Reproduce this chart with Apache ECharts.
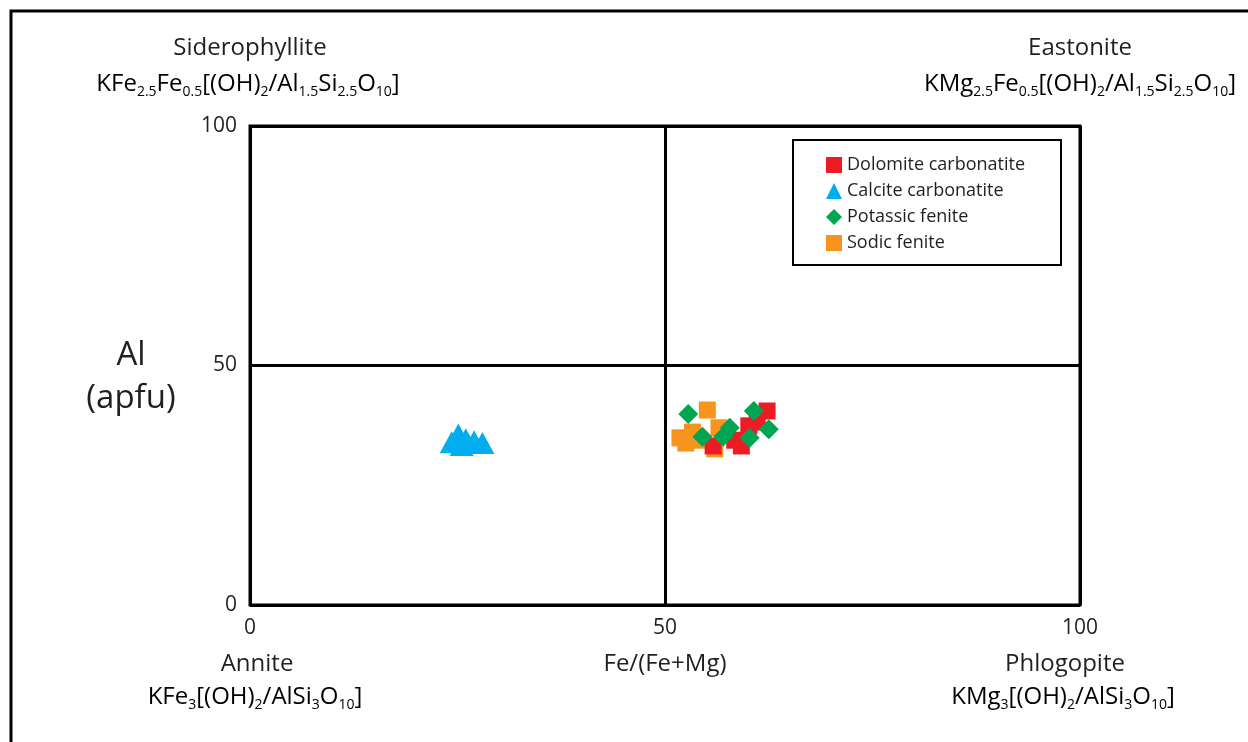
<!DOCTYPE html>
<html><head><meta charset="utf-8">
<script src="https://cdn.jsdelivr.net/npm/echarts@6/dist/echarts.min.js"></script>
<style>html,body{margin:0;padding:0;background:#fff}#c{width:1248px;height:742px}</style>
</head><body><div id="c"></div>
<script>
const seriesNames = ['Dolomite carbonatite','Calcite carbonatite','Potassic fenite','Sodic fenite'];
const dolomite = [[62.3,40.5],[60.1,37.4],[55.8,33.2],[59.2,33.2],[61.1,38.2],[58.4,34.4]];
const calcite = [[25.1,35.6],[27.0,34.2],[28.0,33.8],[24.3,34.0],[25.5,33.4],[26.0,34.6]];
const potassic = [[52.8,39.9],[54.5,35.1],[57.0,35.1],[57.8,37.0],[60.7,40.5],[60.2,34.9],[62.5,36.7]];
const sodic = [[55.1,40.7],[52.5,33.8],[53.3,36.1],[56.0,32.6],[56.5,37.0],[54.2,34.4],[51.8,34.9]];
const xTicks = [0,50,100];
const yTicks = [0,50,100];

const FONT = 'Open Sans';
const colors = {'Dolomite carbonatite':'#ED1C24','Calcite carbonatite':'#00AEEF','Potassic fenite':'#00A651','Sodic fenite':'#F7941D'};
const symbols = {'Dolomite carbonatite':'rect','Calcite carbonatite':'triangle','Potassic fenite':'diamond','Sodic fenite':'rect'};
const sizes = {'Dolomite carbonatite':[17,17],'Calcite carbonatite':[24,22],'Potassic fenite':[20,20],'Sodic fenite':[17,17]};
const dataMap = {'Dolomite carbonatite':dolomite,'Calcite carbonatite':calcite,'Potassic fenite':potassic,'Sodic fenite':sodic};
const drawOrder = ['Calcite carbonatite','Sodic fenite','Dolomite carbonatite','Potassic fenite'];

const rich = {
  m:{fontFamily:FONT,fontSize:24,lineHeight:30,color:'#231F20',verticalAlign:'middle'},
  s:{fontFamily:FONT,fontSize:14,lineHeight:8,color:'#231F20',verticalAlign:'bottom'}
};
function label(x,y,txt,size){
  return {type:'text',x:x,y:y,style:{text:txt,fontFamily:FONT,fontSize:size||24,fill:'#231F20',align:'center',verticalAlign:'middle'}};
}
function formula(x,y,txt){
  return {type:'text',x:x,y:y,style:{text:txt,rich:rich,align:'center',verticalAlign:'middle'}};
}

const chart = echarts.init(document.getElementById('c'),null,{renderer:'canvas'});
chart.setOption({
  animation:false,
  backgroundColor:'#fff',
  grid:{left:250,right:168,top:126,bottom:137,show:true,borderColor:'#000',borderWidth:3,backgroundColor:'transparent'},
  xAxis:{type:'value',min:0,max:100,interval:50,
    axisLine:{show:false},axisTick:{show:false},
    splitLine:{show:true,lineStyle:{color:'#000',width:3}},
    axisLabel:{fontFamily:FONT,fontSize:21,color:'#231F20',margin:13,
      formatter:v=>xTicks.includes(v)?String(v):''}},
  yAxis:{type:'value',min:0,max:100,interval:50,
    axisLine:{show:false},axisTick:{show:false},
    splitLine:{show:true,lineStyle:{color:'#000',width:3}},
    axisLabel:{fontFamily:FONT,fontSize:21,color:'#231F20',margin:13,
      formatter:v=>yTicks.includes(v)?String(v):''}},
  legend:{orient:'vertical',left:821,top:151,itemWidth:16,itemHeight:16,itemGap:8,
    data:seriesNames.map(n=>({name:n,icon:symbols[n]})),
    textStyle:{fontFamily:FONT,fontSize:18,lineHeight:18,color:'#231F20',padding:[0,0,0,0]}},
  graphic:[
    {type:'rect',shape:{x:11,y:11,width:1260,height:760},style:{fill:'none',stroke:'#000',lineWidth:3},silent:true},
    {type:'rect',shape:{x:793,y:140,width:268,height:125},style:{fill:'#fff',stroke:'#000',lineWidth:2},z:-1},
    label(250,48,'Siderophyllite'),
    formula(248,84,'{m|KFe}{s|2.5}{m|Fe}{s|0.5}{m|[(OH)}{s|2}{m|/Al}{s|1.5}{m|Si}{s|2.5}{m|O}{s|10}{m|]}'),
    label(1080,48,'Eastonite'),
    formula(1080,84,'{m|KMg}{s|2.5}{m|Fe}{s|0.5}{m|[(OH)}{s|2}{m|/Al}{s|1.5}{m|Si}{s|2.5}{m|O}{s|10}{m|]}'),
    label(257,664,'Annite'),
    formula(255,697,'{m|KFe}{s|3}{m|[(OH)}{s|2}{m|/AlSi}{s|3}{m|O}{s|10}{m|]}'),
    label(665,664,'Fe/(Fe+Mg)'),
    label(1065,664,'Phlogopite'),
    formula(1063,697,'{m|KMg}{s|3}{m|[(OH)}{s|2}{m|/AlSi}{s|3}{m|O}{s|10}{m|]}'),
    label(131,356,'Al',33),
    label(131,399,'(apfu)',33)
  ],
  series:drawOrder.map(n=>({name:n,type:'scatter',data:dataMap[n],symbol:symbols[n],symbolSize:sizes[n],
    itemStyle:{color:colors[n],opacity:1}}))
});
</script></body></html>
